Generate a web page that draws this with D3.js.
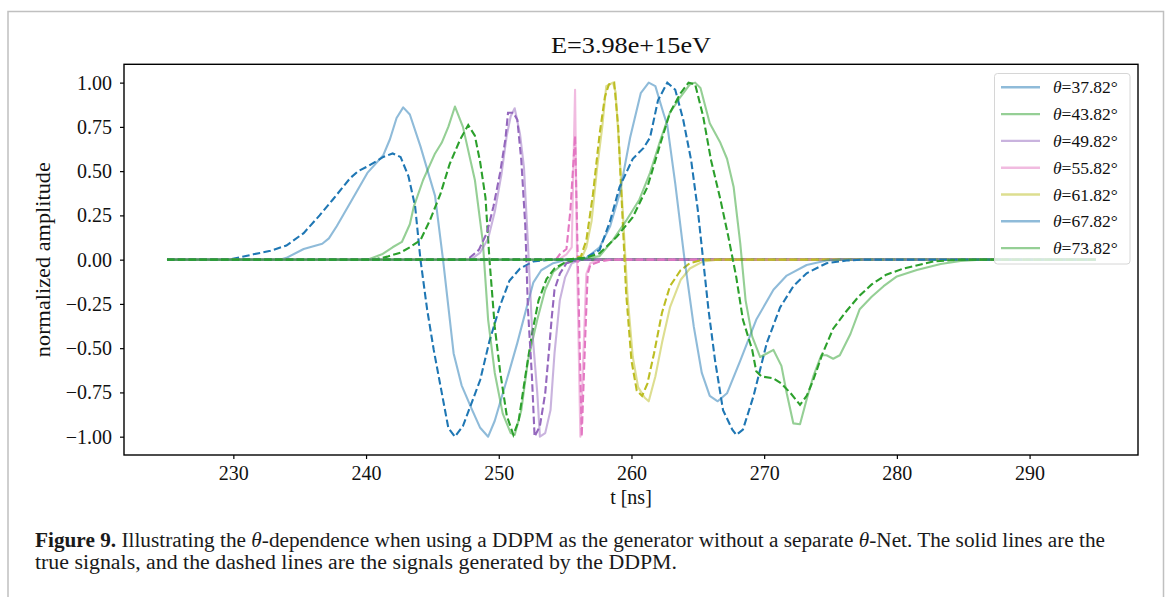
<!DOCTYPE html>
<html>
<head>
<meta charset="utf-8">
<script src="https://cdn.jsdelivr.net/npm/d3@7"></script>
<style>
  body { margin: 0; background: #fff; }
  svg { display: block; }
</style>
</head>
<body>
<div id="chart"></div>
<script>
const width = 1170;
const height = 597;

// zenith angles, one true + one generated trace each
const thetas = [37.82, 43.82, 49.82, 55.82, 61.82, 67.82, 73.82];
const xTicks = [230, 240, 250, 260, 270, 280, 290];
const yTicks = [-1, -0.75, -0.5, -0.25, 0, 0.25, 0.5, 0.75, 1];

// [t (ns), normalized amplitude]
const true37 = [[225,0],[233.5,0],[234.0,0.01],[235.3,0.06],[236.7,0.09],[237.2,0.12],[237.8,0.19],[238.8,0.32],[240.1,0.49],[241.3,0.59],[241.8,0.68],[242.3,0.80],[242.8,0.86],[243.3,0.82],[244.1,0.64],[245.2,0.36],[245.8,0.0],[246.6,-0.53],[247.2,-0.71],[248.0,-0.85],[248.6,-0.95],[249.2,-1.0],[249.7,-0.91],[250.6,-0.68],[251.4,-0.47],[252.1,-0.27],[252.6,-0.13],[253.2,-0.06],[254.1,-0.02],[255.1,0],[295,0]];
const gen37 = [[225,0],[229.7,0],[231.5,0.03],[232.8,0.05],[234.0,0.08],[235.3,0.15],[236.5,0.25],[237.5,0.34],[238.8,0.46],[239.4,0.50],[240.2,0.53],[241.3,0.58],[242.0,0.60],[242.6,0.58],[243.2,0.47],[243.7,0.30],[244.1,0.0],[244.6,-0.28],[245.1,-0.51],[245.7,-0.75],[246.2,-0.95],[246.7,-1.0],[247.3,-0.94],[248.0,-0.80],[248.6,-0.68],[249.3,-0.46],[250.1,-0.26],[250.8,-0.12],[251.6,-0.05],[252.6,-0.01],[254,0],[295,0]];

const true43 = [[225,0],[240.1,0],[241.2,0.03],[242.0,0.07],[242.7,0.10],[243.3,0.2],[243.6,0.3],[244.3,0.45],[245.2,0.60],[245.7,0.66],[246.2,0.75],[246.7,0.865],[247.3,0.75],[248.2,0.45],[248.8,0.10],[249.2,-0.34],[249.7,-0.64],[250.3,-0.87],[250.9,-0.98],[251.2,-0.99],[251.7,-0.85],[252.2,-0.57],[252.9,-0.34],[253.5,-0.17],[254.1,-0.07],[254.9,-0.02],[256,0],[295,0]];
const gen43 = [[225,0],[240.6,0],[241.6,0.017],[242.6,0.04],[243.3,0.07],[244.1,0.11],[244.8,0.22],[245.6,0.37],[246.3,0.54],[247.1,0.68],[247.7,0.76],[248.2,0.70],[248.6,0.55],[249.0,0.35],[249.3,0.0],[249.7,-0.38],[250.1,-0.63],[250.6,-0.88],[251.1,-0.99],[251.5,-0.91],[252.0,-0.66],[252.5,-0.42],[253.0,-0.23],[253.6,-0.11],[254.2,-0.05],[254.9,-0.02],[256,0],[295,0]];

const true49 = [[225,0],[247.9,0],[248.6,0.04],[249.2,0.12],[249.7,0.27],[250.2,0.48],[250.6,0.70],[250.9,0.81],[251.2,0.855],[251.6,0.71],[251.9,0.52],[252.2,0.09],[252.5,-0.38],[252.9,-0.75],[253.1,-1.0],[253.5,-0.98],[253.9,-0.85],[254.2,-0.53],[254.6,-0.23],[255.0,-0.10],[255.5,-0.02],[256.2,0],[295,0]];
const gen49 = [[225,0],[247.3,0],[247.8,0.01],[248.5,0.055],[249.1,0.15],[249.6,0.30],[250.1,0.49],[250.5,0.68],[250.7,0.83],[251.1,0.83],[251.4,0.79],[251.7,0.56],[252.0,0.19],[252.2,-0.28],[252.5,-0.66],[252.7,-1.0],[253.1,-0.94],[253.5,-0.755],[253.8,-0.5],[254.0,-0.32],[254.2,-0.17],[254.6,-0.08],[255.1,-0.02],[255.6,-0.008],[256.5,0],[295,0]];

const true55 = [[225,0],[254.5,0],[255.1,0.03],[255.5,0.07],[255.75,0.96],[255.9,0.0],[256.15,-1.0],[256.6,-0.08],[256.9,-0.02],[257.5,0],[295,0]];
const gen55 = [[225,0],[254.3,0],[254.6,0.03],[255.1,0.06],[255.4,0.28],[255.75,0.70],[256.25,-1.0],[256.5,-0.47],[256.7,-0.08],[256.9,-0.03],[257.6,-0.01],[258.5,0],[295,0]];

const true61 = [[225,0],[255.5,0],[256.25,0.01],[256.6,0.07],[257.0,0.22],[257.4,0.51],[257.8,0.75],[258.1,0.98],[258.6,1.0],[258.8,0.95],[259.1,0.6],[259.4,0.2],[259.7,-0.2],[260.1,-0.55],[260.5,-0.72],[261.0,-0.78],[261.3,-0.80],[261.8,-0.66],[262.3,-0.47],[262.9,-0.27],[263.7,-0.115],[264.4,-0.05],[265.4,-0.01],[266.5,0],[295,0]];
const gen61 = [[225,0],[255.5,0],[256.2,0.02],[256.6,0.11],[257.1,0.37],[257.6,0.71],[258.0,0.92],[258.3,0.99],[258.7,1.0],[259.0,0.75],[259.3,0.28],[259.6,-0.19],[260.0,-0.57],[260.4,-0.74],[260.8,-0.77],[261.2,-0.70],[261.7,-0.53],[262.3,-0.30],[262.9,-0.15],[263.7,-0.06],[264.4,-0.02],[265.4,0],[295,0]];

const true67 = [[225,0],[255.5,0],[256.6,0.01],[257.6,0.07],[258.4,0.19],[259.1,0.37],[259.9,0.69],[260.7,0.94],[261.3,1.0],[261.8,0.98],[262.4,0.83],[262.7,0.76],[263.3,0.43],[264.0,0.0],[264.7,-0.38],[265.3,-0.64],[265.9,-0.77],[266.5,-0.80],[267.2,-0.755],[268.2,-0.57],[269.4,-0.34],[270.7,-0.17],[271.7,-0.09],[273.2,-0.03],[274.7,-0.005],[275.7,0],[295,0]];
const gen67 = [[225,0],[255.5,0],[256.5,0.01],[257.6,0.055],[258.4,0.22],[259.1,0.41],[260.1,0.57],[260.9,0.63],[261.4,0.69],[262.0,0.90],[262.7,1.0],[263.3,0.96],[263.9,0.79],[264.5,0.56],[265.0,0.28],[265.4,0.0],[265.8,-0.28],[266.3,-0.57],[266.9,-0.85],[267.6,-0.96],[267.9,-0.99],[268.4,-0.96],[269.2,-0.77],[270.2,-0.47],[271.2,-0.27],[272.2,-0.15],[273.2,-0.077],[274.7,-0.02],[276.2,-0.005],[277.5,0],[295,0]];

const true73 = [[225,0],[255,0],[256.5,0.005],[257.6,0.02],[258.6,0.11],[259.6,0.22],[260.6,0.34],[261.4,0.49],[262.2,0.68],[262.9,0.83],[263.7,0.92],[264.4,0.99],[264.8,1.0],[265.2,0.97],[265.9,0.77],[266.7,0.66],[267.2,0.57],[267.7,0.41],[268.2,0.09],[268.6,-0.23],[269.1,-0.435],[269.7,-0.55],[270.2,-0.53],[270.7,-0.51],[271.3,-0.60],[271.7,-0.755],[272.2,-0.925],[272.7,-0.93],[273.2,-0.79],[273.7,-0.66],[274.3,-0.54],[274.7,-0.54],[275.2,-0.56],[275.7,-0.54],[276.5,-0.42],[277.2,-0.28],[278.1,-0.21],[279.0,-0.15],[280.0,-0.095],[281.5,-0.058],[283.3,-0.025],[284.8,-0.008],[286.3,0],[295,0]];
const gen73 = [[225,0],[255,0],[256.5,0.01],[257.6,0.036],[258.9,0.13],[260.1,0.24],[261.2,0.41],[262.2,0.66],[262.9,0.83],[263.7,0.94],[264.3,1.0],[264.8,0.99],[265.4,0.81],[266.0,0.56],[266.7,0.34],[267.3,0.13],[267.9,-0.10],[268.4,-0.34],[269.1,-0.51],[269.4,-0.63],[269.8,-0.66],[270.7,-0.67],[271.3,-0.70],[272.0,-0.755],[272.7,-0.82],[273.2,-0.77],[273.7,-0.68],[274.4,-0.53],[275.2,-0.39],[276.1,-0.30],[277.1,-0.21],[278.1,-0.14],[279.2,-0.085],[280.5,-0.05],[282.8,-0.01],[284.8,0],[295,0]];

const trueSignals = [true37, true43, true49, true55, true61, true67, true73];
const genSignals = [gen37, gen43, gen49, gen55, gen61, gen67, gen73];
const colors = ["#1f77b4", "#2ca02c", "#9467bd", "#e377c2", "#bcbd22", "#1f77b4", "#2ca02c"];

const serif = "'Liberation Serif', 'DejaVu Serif', serif";
const plot = { left: 124, right: 1138, top: 64.3, bottom: 455 };

const svg = d3.create("svg")
    .attr("width", width)
    .attr("height", height)
    .attr("viewBox", [0, 0, width, height])
    .style("font-family", serif);

svg.append("rect").attr("width", width).attr("height", height).attr("fill", "#fff");

// page frame around the figure
svg.append("path")
    .attr("d", `M8,${height + 2}V11.5H1163.5V${height + 2}`)
    .attr("fill", "none")
    .attr("stroke", "#c0c0c0")
    .attr("stroke-width", 1.5);

const x = d3.scaleLinear().domain([221.76, 298.17]).range([plot.left, plot.right]);
const y = d3.scaleLinear().domain([-1.1035, 1.1035]).range([plot.bottom, plot.top]);

const line = d3.line().x(d => x(d[0])).y(d => y(d[1]));

svg.append("defs").append("clipPath").attr("id", "clip")
  .append("rect")
    .attr("x", plot.left).attr("y", plot.top)
    .attr("width", plot.right - plot.left).attr("height", plot.bottom - plot.top);

const lines = svg.append("g").attr("clip-path", "url(#clip)").attr("fill", "none");

thetas.forEach((th, i) => {
  lines.append("path")
      .attr("d", line(trueSignals[i]))
      .attr("stroke", colors[i])
      .attr("stroke-opacity", 0.5)
      .attr("stroke-width", 2.1)
      .attr("stroke-linejoin", "round");
  lines.append("path")
      .attr("d", line(genSignals[i]))
      .attr("stroke", colors[i])
      .attr("stroke-width", 2.1)
      .attr("stroke-dasharray", "7.5,3.3");
});

// axes
const fmt = d3.format(".2f");
const xAxis = svg.append("g")
    .attr("transform", `translate(0,${plot.bottom})`)
    .call(d3.axisBottom(x).tickValues(xTicks).tickSize(4).tickPadding(7).tickFormat(d3.format("d")));
const yAxis = svg.append("g")
    .attr("transform", `translate(${plot.left},0)`)
    .call(d3.axisLeft(y).tickValues(yTicks).tickSize(4).tickPadding(8).tickFormat(fmt));

[xAxis, yAxis].forEach(g => {
  g.select(".domain").remove();
  g.selectAll(".tick line").attr("stroke", "#000").attr("stroke-width", 1.2);
  g.selectAll(".tick text")
      .attr("fill", "#111")
      .style("font-family", serif)
      .style("font-size", "20px");
});

svg.append("rect")
    .attr("x", plot.left).attr("y", plot.top)
    .attr("width", plot.right - plot.left).attr("height", plot.bottom - plot.top)
    .attr("fill", "none")
    .attr("stroke", "#000")
    .attr("stroke-width", 1.4);

svg.append("text")
    .attr("x", (plot.left + plot.right) / 2)
    .attr("y", 53)
    .attr("text-anchor", "middle")
    .attr("font-size", 24)
    .attr("textLength", 160)
    .attr("lengthAdjust", "spacingAndGlyphs")
    .attr("fill", "#111")
    .text("E=3.98e+15eV");

svg.append("text")
    .attr("x", (plot.left + plot.right) / 2)
    .attr("y", 504)
    .attr("text-anchor", "middle")
    .attr("font-size", 20)
    .attr("fill", "#111")
    .text("t [ns]");

svg.append("text")
    .attr("transform", `translate(50,${(plot.top + plot.bottom) / 2}) rotate(-90)`)
    .attr("text-anchor", "middle")
    .attr("font-size", 21)
    .attr("textLength", 195)
    .attr("lengthAdjust", "spacingAndGlyphs")
    .attr("fill", "#111")
    .text("normalized amplitude");

// legend (solid lines only)
const legend = svg.append("g");
legend.append("rect")
    .attr("x", 994.5).attr("y", 73.5)
    .attr("width", 135.5).attr("height", 190.5)
    .attr("rx", 3)
    .attr("fill", "#fff").attr("fill-opacity", 0.8)
    .attr("stroke", "#d6d6d6");

const item = legend.selectAll("g.item")
  .data(thetas)
  .join("g")
    .attr("class", "item")
    .attr("transform", (d, i) => `translate(1001,${87.3 + i * 26.8})`);

item.append("line")
    .attr("x2", 39)
    .attr("stroke", (d, i) => colors[i])
    .attr("stroke-opacity", 0.5)
    .attr("stroke-width", 2.4);

const lt = item.append("text")
    .attr("x", 52)
    .attr("dy", "0.35em")
    .attr("font-size", 17.5)
    .attr("fill", "#111");
lt.append("tspan").attr("font-style", "italic").text("θ");
lt.append("tspan").text(d => `=${d.toFixed(2)}°`);

// caption
const cap1 = svg.append("text")
    .attr("x", 35).attr("y", 547)
    .attr("font-size", 21.3)
    .attr("textLength", 1070)
    .attr("lengthAdjust", "spacingAndGlyphs")
    .attr("fill", "#1a1a1a");
cap1.append("tspan").attr("font-weight", "bold").text("Figure 9.");
cap1.append("tspan").text(" Illustrating the ");
cap1.append("tspan").attr("font-style", "italic").text("θ");
cap1.append("tspan").text("-dependence when using a DDPM as the generator without a separate ");
cap1.append("tspan").attr("font-style", "italic").text("θ");
cap1.append("tspan").text("-Net. The solid lines are the");

svg.append("text")
    .attr("x", 35).attr("y", 569)
    .attr("font-size", 21.3)
    .attr("textLength", 642)
    .attr("lengthAdjust", "spacingAndGlyphs")
    .attr("fill", "#1a1a1a")
    .text("true signals, and the dashed lines are the signals generated by the DDPM.");

document.getElementById("chart").appendChild(svg.node());
</script>
</body>
</html>
